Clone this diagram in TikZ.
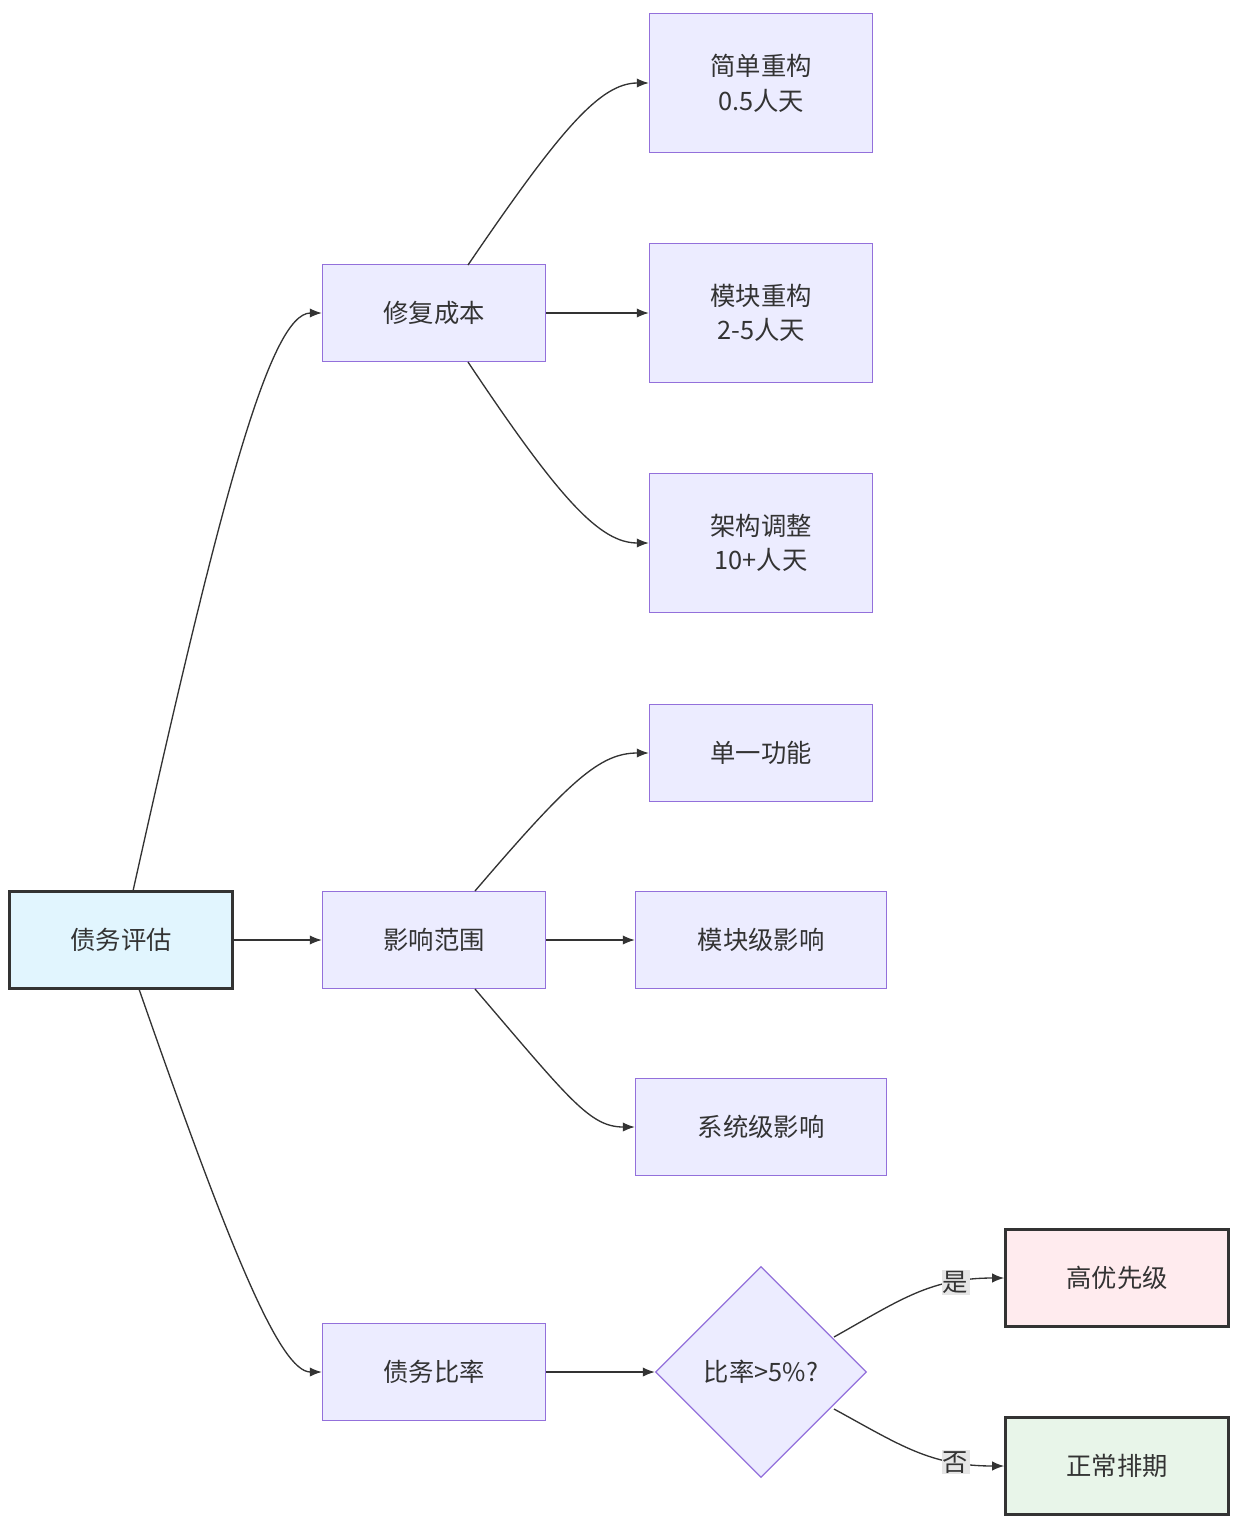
\documentclass[tikz,border=0pt]{standalone}
\usepackage{fontspec}
\setmainfont{Noto Sans CJK SC}
\usetikzlibrary{shapes.geometric,arrows.meta}
\definecolor{nf}{HTML}{ECECFF}
\definecolor{nb}{HTML}{9370DB}
\definecolor{ln}{HTML}{333333}
\definecolor{fa}{HTML}{E1F5FE}
\definecolor{fh}{HTML}{FFEBEE}
\definecolor{fn}{HTML}{E8F5E9}
\begin{document}
\begin{tikzpicture}[x=0.75pt,y=-0.75pt,
 box/.style={draw=nb,fill=nf,line width=1pt,minimum width=223*0.75pt,minimum height=97*0.75pt,font=\fontsize{19}{26}\selectfont,text=ln,align=center,inner sep=0},
 dark/.style={box,draw=ln,line width=2pt},
 e/.style={draw=ln,line width=1pt,-{Latex[length=9pt,width=7pt]}},
 lab/.style={fill=black!10,font=\fontsize{19}{22}\selectfont,text=ln,inner sep=1pt}]
\useasboundingbox (0,0) rectangle (1250,1528);
\node[dark,fill=fa] (a) at (121,940) {债务评估};
\node[box] (b) at (434,313) {修复成本};
\node[box] (c) at (434,940) {影响范围};
\node[box] (d) at (434,1372) {债务比率};
\node[box,minimum height=139*0.75pt] (b1) at (761,83) {简单重构\\0.5人天};
\node[box,minimum height=139*0.75pt] (b2) at (761,313) {模块重构\\2-5人天};
\node[box,minimum height=139*0.75pt] (b3) at (761,543) {架构调整\\10+人天};
\node[box] (c1) at (761,753) {单一功能};
\node[box,minimum width=251*0.75pt] (c2) at (761,940) {模块级影响};
\node[box,minimum width=251*0.75pt] (c3) at (761,1127) {系统级影响};
\node[diamond,draw=nb,fill=nf,line width=1pt,minimum width=211*0.75pt,minimum height=211*0.75pt,inner sep=0,font=\fontsize{19}{26}\selectfont,text=ln] (q) at (761,1372) {比率>5\%?};
\node[dark,fill=fh] (h) at (1117,1278) {高优先级};
\node[dark,fill=fn] (n) at (1117,1466) {正常排期};
\coordinate (a1) at (133,891);
\coordinate (a2) at (139,989);
\draw[e] (a1) .. controls (220,500) and (270,313) .. (b.west);
\draw[e] (a.east) -- (c.west);
\draw[e] (a2) .. controls (230,1250) and (280,1372) .. (d.west);
\coordinate (bt) at (468,265);
\coordinate (bb) at (468,362);
\draw[e] (bt) .. controls (560,130) and (600,83) .. (b1.west);
\draw[e] (b.east) -- (b2.west);
\draw[e] (bb) .. controls (560,500) and (600,543) .. (b3.west);
\coordinate (ct) at (475,891);
\coordinate (cb) at (475,989);
\draw[e] (ct) .. controls (570,780) and (600,753) .. (c1.west);
\draw[e] (c.east) -- (c2.west);
\draw[e] (cb) .. controls (570,1100) and (590,1127) .. (c3.west);
\draw[e] (d.east) -- (q.west);
\coordinate (qt) at (834,1337);
\coordinate (qb) at (834,1409);
\draw[e] (qt) .. controls (900,1300) and (930,1278) .. node[lab,pos=0.75]{是} (h.west);
\draw[e] (qb) .. controls (900,1445) and (930,1466) .. node[lab,pos=0.75]{否} (n.west);
\end{tikzpicture}
\end{document}
